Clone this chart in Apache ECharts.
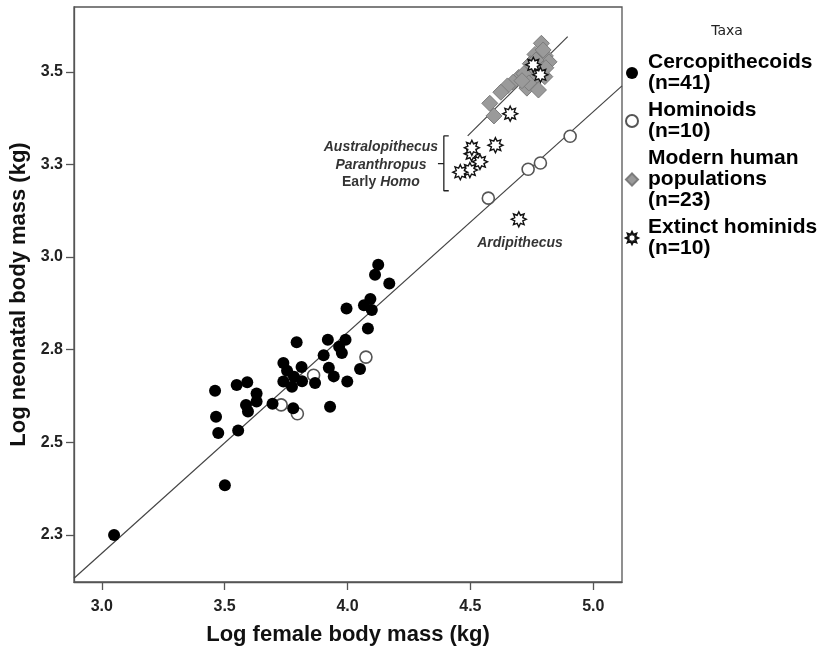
<!DOCTYPE html>
<html><head><meta charset="utf-8">
<script src="https://cdn.jsdelivr.net/npm/echarts@6/dist/echarts.min.js"></script>
<style>html,body{margin:0;padding:0;background:#fff}#c{width:821px;height:654px}</style>
</head><body><div id="c"></div>
<script>
// ---- data ----
const seriesNames = ['Cercopithecoids', 'Hominoids', 'Modern human populations', 'Extinct hominids'];
const legendLabels = ['Cercopithecoids\n(n=41)', 'Hominoids\n(n=10)', 'Modern human\npopulations\n(n=23)', 'Extinct hominids\n(n=10)'];
const xRange = [2.887, 5.117];
const yRange = [2.123, 3.675];
const xTicks = [3.0, 3.5, 4.0, 4.5, 5.0];
const xTickLabels = ['3.0', '3.5', '4.0', '4.5', '5.0'];
const yTicks = [2.25, 2.5, 2.75, 3.0, 3.25, 3.5];
const yTickLabels = ['2.3', '2.5', '2.8', '3.0', '3.3', '3.5'];

const cercopithecoids = [
  [3.050, 2.250], [3.501, 2.384], [3.461, 2.639], [3.465, 2.569], [3.474, 2.525],
  [3.555, 2.532], [3.549, 2.655], [3.592, 2.662], [3.630, 2.632], [3.587, 2.601],
  [3.630, 2.610], [3.595, 2.583], [3.695, 2.604], [3.739, 2.714], [3.793, 2.770],
  [3.739, 2.664], [3.774, 2.650], [3.782, 2.677], [3.813, 2.703], [3.815, 2.665],
  [3.868, 2.660], [3.779, 2.592], [4.125, 2.979], [4.112, 2.952], [4.170, 2.929],
  [4.093, 2.887], [4.067, 2.870], [4.099, 2.857], [3.996, 2.861], [4.083, 2.807],
  [3.920, 2.777], [3.992, 2.777], [3.966, 2.758], [3.977, 2.741], [3.903, 2.735],
  [3.924, 2.701], [4.051, 2.698], [3.944, 2.678], [3.999, 2.664], [3.929, 2.596],
  [3.754, 2.693]
];
const hominoids = [
  [3.730, 2.601], [3.796, 2.577], [3.862, 2.681], [4.075, 2.730],
  [4.573, 3.159], [4.735, 3.237], [4.785, 3.254], [4.906, 3.326]
];
const modernHumans = [
  [4.789, 3.577], [4.763, 3.547], [4.805, 3.543], [4.820, 3.527], [4.744, 3.522],
  [4.787, 3.513], [4.697, 3.485], [4.674, 3.472], [4.651, 3.462], [4.624, 3.445],
  [4.579, 3.415], [4.596, 3.381], [4.730, 3.456], [4.777, 3.451], [4.756, 3.481],
  [4.803, 3.487], [4.718, 3.495], [4.771, 3.503], [4.807, 3.511], [4.738, 3.470],
  [4.767, 3.532], [4.796, 3.559], [4.710, 3.476]
];
const extinctHominids = [
  [4.662, 3.387], [4.602, 3.302], [4.505, 3.279], [4.539, 3.257], [4.498, 3.235],
  [4.459, 3.229], [4.697, 3.102], [4.756, 3.519], [4.785, 3.492], [4.506, 3.295]
];
const fitAllTaxa = [[2.887, 2.133], [5.117, 3.462]];
const fitModernHumans = [[4.489, 3.327], [4.896, 3.595]];
const annotations = [
  [4.136, 3.298, 'Australopithecus'],
  [4.136, 3.249, 'Paranthropus'],
  [4.136, 3.201, 'Early Homo'],
  [4.702, 3.038, 'Ardipithecus']
];
const bracket = [[4.412, 3.327], [4.392, 3.327], [4.392, 3.252], [4.368, 3.252], [4.392, 3.252], [4.392, 3.179], [4.412, 3.179]];

// ---- star symbol shape ----
function starPath() {
  const pts = [];
  for (let i = 0; i < 16; i++) {
    const a = i * Math.PI / 8 - Math.PI / 2;
    const r = i % 2 === 0 ? 50 : 29;
    pts.push((50 + r * Math.cos(a)).toFixed(2) + ' ' + (50 + r * Math.sin(a)).toFixed(2));
  }
  return 'path://M' + pts.join(' L') + ' Z';
}
const STAR = starPath();

function lookup(ticks, labels, v) {
  for (let i = 0; i < ticks.length; i++) if (Math.abs(ticks[i] - v) < 1e-6) return labels[i];
  return '';
}

const FONT = '"Liberation Sans", Arial, sans-serif';
const AXIS_COLOR = '#555';

const chart = echarts.init(document.getElementById('c'), null, { renderer: 'canvas' });
chart.setOption({
  animation: false,
  backgroundColor: '#fff',
  grid: { left: 74, right: 199, top: 7, bottom: 72, show: true, borderColor: AXIS_COLOR, borderWidth: 1.3, outerBoundsMode: 'none' },
  xAxis: {
    type: 'value', min: xRange[0], max: xRange[1],
    axisLine: { show: true, lineStyle: { color: AXIS_COLOR, width: 1.3 } },
    axisTick: { show: true, length: 8, customValues: xTicks, lineStyle: { color: AXIS_COLOR, width: 1.3 } },
    axisLabel: { customValues: xTicks, margin: 17, formatter: v => lookup(xTicks, xTickLabels, v), fontSize: 16, fontWeight: 'bold', color: '#222', fontFamily: FONT },
    splitLine: { show: false },
    name: 'Log female body mass (kg)', nameLocation: 'middle', nameGap: 42,
    nameTextStyle: { fontSize: 22, fontWeight: 'bold', color: '#111', fontFamily: FONT }
  },
  yAxis: {
    type: 'value', min: yRange[0], max: yRange[1],
    axisLine: { show: true, lineStyle: { color: AXIS_COLOR, width: 1.3 } },
    axisTick: { show: true, length: 8, customValues: yTicks, lineStyle: { color: AXIS_COLOR, width: 1.3 } },
    axisLabel: { customValues: yTicks, margin: 11, formatter: v => lookup(yTicks, yTickLabels, v), fontSize: 16, fontWeight: 'bold', color: '#222', fontFamily: FONT },
    splitLine: { show: false },
    name: 'Log neonatal body mass (kg)', nameLocation: 'middle', nameGap: 42,
    nameTextStyle: { fontSize: 22, fontWeight: 'bold', color: '#111', fontFamily: FONT }
  },
  title: {
    text: 'Taxa', left: 722, top: 19, textAlign: 'center',
    textStyle: { fontSize: 14, fontWeight: 'normal', color: '#222', fontFamily: '"DejaVu Sans", sans-serif' }
  },
  legend: {
    orient: 'vertical', left: 625, top: 52, padding: 0, itemGap: 6,
    itemWidth: 12, itemHeight: 12, selectedMode: false,
    data: seriesNames,
    formatter: name => legendLabels[seriesNames.indexOf(name)],
    textStyle: { fontSize: 21, fontWeight: 'bold', lineHeight: 21, color: '#000', fontFamily: FONT, padding: [0, 0, 0, 5] }
  },
  series: [
    { type: 'line', data: fitAllTaxa, symbol: 'none', silent: true, z: 1, lineStyle: { color: '#444', width: 1.2 } },
    { type: 'line', data: fitModernHumans, symbol: 'none', silent: true, z: 1, lineStyle: { color: '#444', width: 1.2 } },
    { type: 'line', data: bracket, symbol: 'none', silent: true, z: 1, lineStyle: { color: '#222', width: 1.3 } },
    { name: seriesNames[2], type: 'scatter', data: modernHumans, symbol: 'diamond', symbolSize: 16, symbolKeepAspect: true, z: 2,
      itemStyle: { color: '#9a9a9a', borderColor: '#7c7c7c', borderWidth: 1, opacity: 1 } },
    { name: seriesNames[1], type: 'scatter', data: hominoids, symbol: 'circle', symbolSize: 12, z: 3,
      itemStyle: { color: '#fff', borderColor: '#555', borderWidth: 1.6, opacity: 1 } },
    { name: seriesNames[0], type: 'scatter', data: cercopithecoids, symbol: 'circle', symbolSize: 12, z: 3,
      itemStyle: { color: '#000', borderColor: '#000', borderWidth: 0, opacity: 1 } },
    { name: seriesNames[3], type: 'scatter', data: extinctHominids, symbol: STAR, symbolSize: 15, z: 4,
      itemStyle: { color: '#fff', borderColor: '#111', borderWidth: 1.4, opacity: 1 } },
    { type: 'scatter', data: annotations, symbolSize: 0, silent: true, z: 5,
      label: {
        show: true, position: 'inside', color: '#000', fontFamily: FONT, fontSize: 14,
        fontWeight: 'bold', fontStyle: 'italic',
        formatter: p => p.data[2] === 'Early Homo' ? '{n|Early }{i|Homo}' : p.data[2],
        rich: {
          n: { fontSize: 14, fontWeight: 'bold', fontStyle: 'normal', color: '#000', fontFamily: FONT },
          i: { fontSize: 14, fontWeight: 'bold', fontStyle: 'italic', color: '#000', fontFamily: FONT }
        }
      } }
  ]
});
</script>
</body></html>
